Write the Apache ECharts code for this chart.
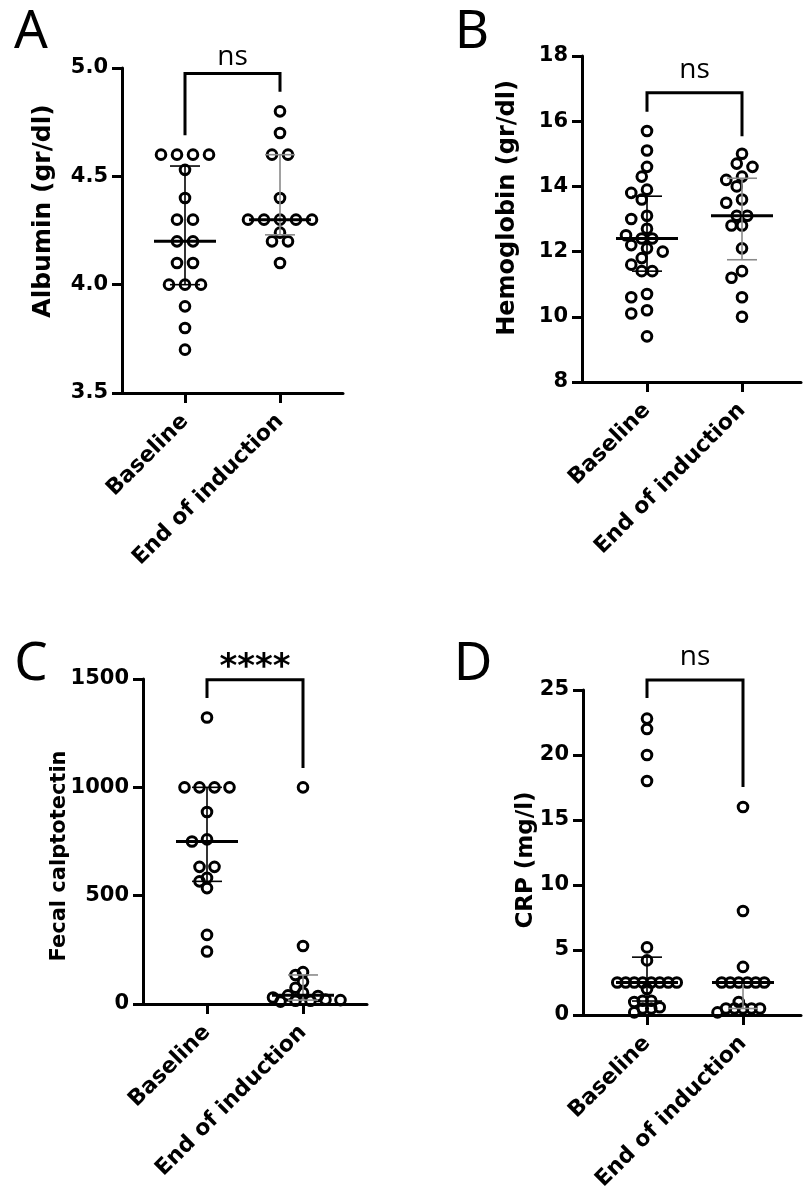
<!DOCTYPE html>
<html><head><meta charset="utf-8">
<script src="https://cdn.jsdelivr.net/npm/echarts@6/dist/echarts.min.js"></script>
<style>html,body{margin:0;padding:0;background:#fff}#c{width:810px;height:1201px}</style>
</head><body><div id="c"></div>
<script>
// ---------- data ----------
const categories = ['Baseline', 'End of induction'];
const panelLetters = ['A', 'B', 'C', 'D'];
const axisTitles = ['Albumin (gr/dl)', 'Hemoglobin (gr/dl)', 'Fecal calptotectin', 'CRP (mg/l)'];
const sigLabels = ['ns', 'ns', '****', 'ns'];

const albuminBaseline = [4.6, 4.6, 4.6, 4.6, 4.53, 4.4, 4.3, 4.3, 4.2, 4.2, 4.1, 4.1, 4.0, 4.0, 4.0, 3.9, 3.8, 3.7];
const albuminEnd = [4.8, 4.7, 4.6, 4.6, 4.4, 4.3, 4.3, 4.3, 4.3, 4.3, 4.24, 4.2, 4.2, 4.1];
const hbBaseline = [15.7, 15.1, 14.6, 14.3, 13.9, 13.8, 13.6, 13.1, 13.0, 12.7, 12.5, 12.4, 12.4, 12.2, 12.1, 12.0, 11.8, 11.6, 11.4, 11.4, 10.7, 10.6, 10.2, 10.1, 9.4];
const hbEnd = [15.0, 14.7, 14.6, 14.3, 14.2, 14.0, 13.6, 13.5, 13.1, 13.1, 12.8, 12.8, 12.1, 11.4, 11.2, 10.6, 10.0];
const fcBaseline = [1322, 1000, 1000, 1000, 1000, 886, 760, 750, 633, 633, 582, 566, 535, 319, 242];
const fcEnd = [1000, 268, 147, 134, 103, 75, 52, 40, 37, 30, 20, 18, 15, 15, 11];
const crpBaseline = [22.8, 22.0, 20.0, 18.0, 5.2, 4.2, 2.5, 2.5, 2.5, 2.5, 2.5, 2.5, 2.5, 2.5, 2.0, 1.1, 1.1, 1.0, 0.6, 0.5, 0.5, 0.2];
const crpEnd = [16.0, 8.0, 3.7, 2.5, 2.5, 2.5, 2.5, 2.5, 2.5, 1.0, 0.5, 0.5, 0.5, 0.5, 0.5, 0.2];

const albuminTicks = [3.5, 4.0, 4.5, 5.0];
const hbTicks = [8, 10, 12, 14, 16, 18];
const fcTicks = [0, 500, 1000, 1500];
const crpTicks = [0, 5, 10, 15, 20, 25];

// significance brackets in data units: [top, left leg end, right leg end, label centre]
const bracketA = [4.975, 4.69, 4.89, 5.049];
const bracketB = [16.87, 16.29, 15.54, 17.57];
const bracketC = [1497, 1412, 1089, 1551];
const bracketD = [25.77, 24.38, 17.54, 27.54];

// ---------- layout (pixels) ----------
const layout = [
  {left:122, right:343, top:68, bottom:393, cat0:185, cat1:280, step:16, minD:11.5, dec:1, tx:43, ty:211, tf:25, lx:31, ly:33},
  {left:582, right:801, top:56, bottom:382, cat0:647, cat1:742, step:10.5, minD:11, dec:0, tx:508, ty:208, tf:24, lx:472, ly:33},
  {left:143, right:367, top:679, bottom:1004, cat0:207, cat1:303, step:15, minD:8, dec:0, tx:60, ty:856, tf:21, lx:31, ly:665},
  {left:583, right:801, top:690, bottom:1015, cat0:647, cat1:743, step:8.5, minD:7, dec:0, tx:526, ty:860, tf:23, lx:473, ly:665}
];
const groups = [[albuminBaseline, albuminEnd], [hbBaseline, hbEnd], [fcBaseline, fcEnd], [crpBaseline, crpEnd]];
const ticks = [albuminTicks, hbTicks, fcTicks, crpTicks];
const brackets = [bracketA, bracketB, bracketC, bracketD];

const AX_FONT = 'DejaVu Sans';

// GraphPad style percentile
function pct(vals, p) {
  const s = vals.slice().sort((a, b) => a - b), n = s.length;
  let r = (n + 1) * p; if (r < 1) r = 1; if (r > n) r = n;
  const lo = Math.floor(r), f = r - lo;
  if (lo >= n) return s[n - 1];
  return s[lo - 1] + f * (s[lo] - s[lo - 1]);
}
// beeswarm offsets in pixels: rows of tied values first (largest first), then the rest top-down
function swarm(vals, pxPerY, step, minD) {
  const map = new Map();
  vals.forEach((v, i) => { if (!map.has(v)) map.set(v, []); map.get(v).push(i); });
  const rows = Array.from(map.entries()).sort((a, b) => (b[1].length - a[1].length) || (b[0] - a[0]));
  const placed = [], off = new Array(vals.length);
  rows.forEach(([v, grp]) => {
    const n = grp.length, y = v * pxPerY;
    for (let k = 0; k < 200; k++) {
      const shift = (k % 2 === 1 ? -1 : 1) * Math.ceil(k / 2) * step / 2;
      const xs = grp.map((_, m) => shift + (m - (n - 1) / 2) * step);
      const ok = xs.every(x => placed.every(p => Math.hypot(p[0] - x, p[1] - y) >= minD));
      if (ok) { grp.forEach((g, m) => { off[g] = xs[m]; placed.push([xs[m], y]); }); break; }
    }
  });
  return off;
}

const grid = [], xAxis = [], yAxis = [], series = [], graphic = [];
layout.forEach((L, p) => {
  const unit = L.cat1 - L.cat0;
  const xmin = (L.left - L.cat0) / unit, xmax = (L.right - L.cat0) / unit;
  const t = ticks[p];
  const ymin = t[0], ymax = t[t.length - 1];
  const pxPerY = (L.bottom - L.top) / (ymax - ymin);
  grid.push({left: L.left, top: L.top, width: L.right - L.left, height: L.bottom - L.top, containLabel: false, outerBoundsMode: 'none'});
  xAxis.push({
    type: 'value', gridIndex: p, min: xmin, max: xmax,
    axisLine: {show: true, onZero: false, lineStyle: {color: '#000', width: 3}},
    axisTick: {show: true, customValues: [0, 1], length: 10, lineStyle: {color: '#000', width: 3}},
    axisLabel: {show: true, customValues: [0, 1], rotate: 45, margin: 25, formatter: v => categories[Math.round(v)] || '',
      color: '#000', fontFamily: AX_FONT, fontWeight: 'bold', fontSize: 22},
    splitLine: {show: false}
  });
  yAxis.push({
    type: 'value', gridIndex: p, min: ymin, max: ymax, interval: t[1] - t[0],
    axisLine: {show: true, onZero: false, lineStyle: {color: '#000', width: 3}},
    axisTick: {show: true, length: 10, lineStyle: {color: '#000', width: 3}},
    axisLabel: {show: true, margin: 14, formatter: v => Number(v).toFixed(L.dec),
      color: '#000', fontFamily: AX_FONT, fontWeight: 'bold', fontSize: 21},
    splitLine: {show: false}
  });
  // points
  const pts = [];
  groups[p].forEach((vals, g) => {
    const off = swarm(vals, pxPerY, L.step, L.minD);
    vals.forEach((v, i) => pts.push([g + off[i] / unit, v]));
  });
  series.push({
    type: 'scatter', xAxisIndex: p, yAxisIndex: p, data: pts, symbol: 'circle', symbolSize: 9.6,
    itemStyle: {color: 'rgba(0,0,0,0)', borderColor: '#000', borderWidth: 3, opacity: 1},
    silent: true, z: 3
  });
  // median + interquartile range
  const stats = groups[p].map((vals, g) => [g, pct(vals, 0.5), pct(vals, 0.25), pct(vals, 0.75)]);
  series.push({
    type: 'custom', xAxisIndex: p, yAxisIndex: p, data: stats, silent: true, z: 4, clip: false,
    renderItem: (params, api) => {
      const g = api.value(0);
      const m = api.coord([g, api.value(1)]), lo = api.coord([g, api.value(2)]), hi = api.coord([g, api.value(3)]);
      const col = g === 0 ? '#000' : '#8a8a8a';
      const ln = (x1, y1, x2, y2, w, c) => ({type: 'line', shape: {x1, y1, x2, y2}, style: {stroke: c, lineWidth: w}});
      return {type: 'group', children: [
        ln(m[0], lo[1], m[0], hi[1], 1.6, col),
        ln(m[0] - 15, lo[1], m[0] + 15, lo[1], 1.6, col),
        ln(m[0] - 15, hi[1], m[0] + 15, hi[1], 1.6, col),
        ln(m[0] - 31, m[1], m[0] + 31, m[1], 3, '#000')
      ]};
    }
  });
  // significance bracket
  series.push({
    type: 'custom', xAxisIndex: p, yAxisIndex: p, data: [[0.5].concat(brackets[p])], silent: true, z: 5, clip: false,
    renderItem: (params, api) => {
      const top = api.value(1), le = api.value(2), re = api.value(3), sy = api.value(4);
      const a = api.coord([0, le]), b = api.coord([0, top]), c = api.coord([1, top]), d = api.coord([1, re]);
      const s = api.coord([0.5, sy]);
      const star = sigLabels[p] !== 'ns';
      return {type: 'group', children: [
        {type: 'polyline', shape: {points: [a, b, c, d]}, style: {stroke: '#000', lineWidth: 3, fill: null, lineJoin: 'miter'}},
        {type: 'text', style: {text: sigLabels[p], x: s[0], y: s[1], align: 'center', verticalAlign: 'middle',
          font: star ? 'bold 34px "DejaVu Sans"' : '28px "Open Sans"', fill: '#000'}}
      ]};
    }
  });
  graphic.push({type: 'text', x: L.lx, y: L.ly, style: {text: panelLetters[p], font: '53px "Noto Sans"', fill: '#000', align: 'center', verticalAlign: 'middle'}});
  graphic.push({type: 'text', x: L.tx, y: L.ty, rotation: Math.PI / 2, style: {text: axisTitles[p], font: 'bold ' + L.tf + 'px "DejaVu Sans"', fill: '#000', align: 'center', verticalAlign: 'middle'}});
});

const chart = echarts.init(document.getElementById('c'), null, {renderer: 'canvas'});
chart.setOption({animation: false, backgroundColor: '#fff', grid, xAxis, yAxis, series, graphic});
</script></body></html>
